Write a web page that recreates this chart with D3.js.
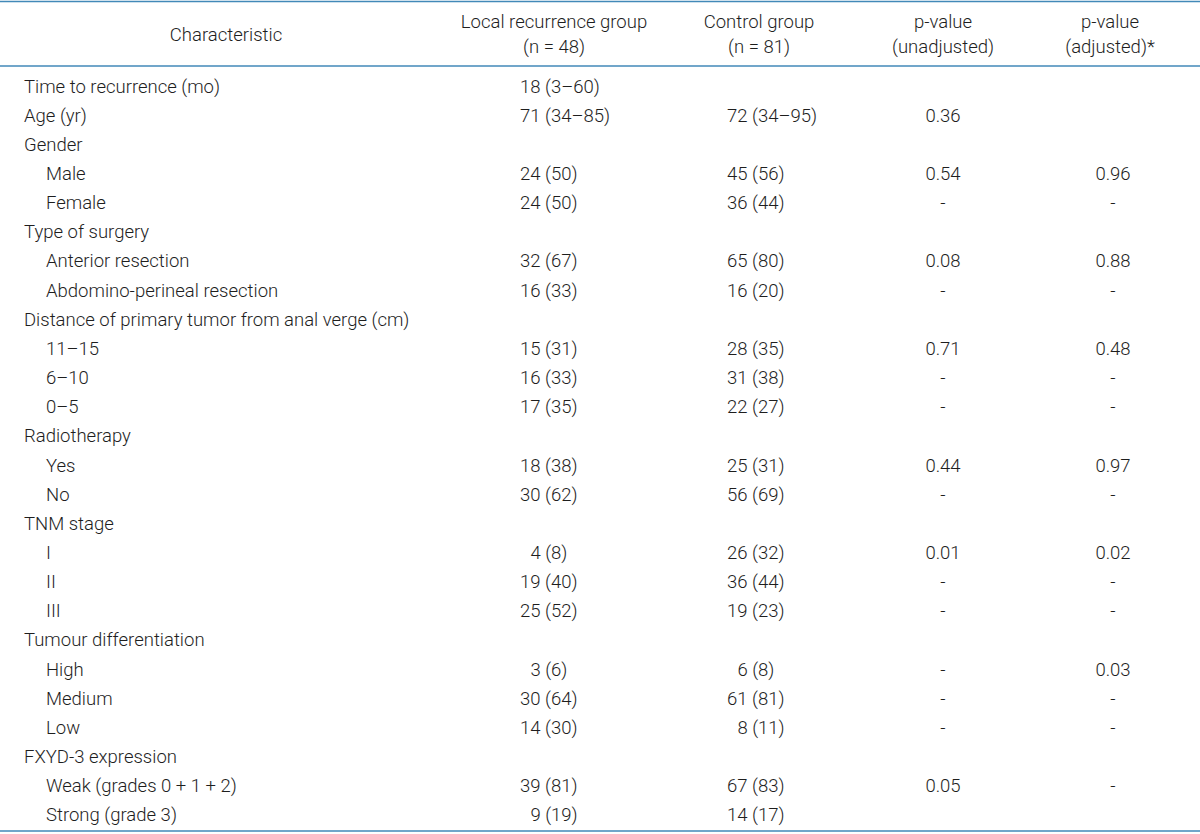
<!DOCTYPE html>
<html lang="en">
<head>
<meta charset="UTF-8">
<script src="https://d3js.org/d3.v7.min.js"></script>
<title>Characteristics table</title>
<style>
  body { margin: 0; background: #fff; }
  svg text { font-family: Roboto, "Noto Sans", sans-serif; font-size: 18.5px; font-weight: 300; fill: #1e1e1e; }
</style>
</head>
<body>
<script>
// table data
var labels = ["Time to recurrence (mo)", "Age (yr)", "Gender", "Male", "Female",
  "Type of surgery", "Anterior resection", "Abdomino-perineal resection",
  "Distance of primary tumor from anal verge (cm)", "11\u201315", "6\u201310", "0\u20135",
  "Radiotherapy", "Yes", "No", "TNM stage", "I", "II", "III",
  "Tumour differentiation", "High", "Medium", "Low",
  "FXYD-3 expression", "Weak (grades 0 + 1 + 2)", "Strong (grade 3)"];
var levels = [0, 0, 0, 1, 1, 0, 1, 1, 0, 1, 1, 1, 0, 1, 1, 0, 1, 1, 1, 0, 1, 1, 1, 0, 1, 1];
var localGroup = ["18 (3\u201360)", "71 (34\u201385)", "", "24 (50)", "24 (50)", "", "32 (67)", "16 (33)",
  "", "15 (31)", "16 (33)", "17 (35)", "", "18 (38)", "30 (62)", "", "4 (8)", "19 (40)", "25 (52)",
  "", "3 (6)", "30 (64)", "14 (30)", "", "39 (81)", "9 (19)"];
var controlGroup = ["", "72 (34\u201395)", "", "45 (56)", "36 (44)", "", "65 (80)", "16 (20)",
  "", "28 (35)", "31 (38)", "22 (27)", "", "25 (31)", "56 (69)", "", "26 (32)", "36 (44)", "19 (23)",
  "", "6 (8)", "61 (81)", "8 (11)", "", "67 (83)", "14 (17)"];
var pUnadjusted = ["", "0.36", "", "0.54", "-", "", "0.08", "-", "", "0.71", "-", "-", "", "0.44", "-",
  "", "0.01", "-", "-", "", "-", "-", "-", "", "0.05", ""];
var pAdjusted = ["", "", "", "0.96", "-", "", "0.88", "-", "", "0.48", "-", "-", "", "0.97", "-",
  "", "0.02", "-", "-", "", "0.03", "-", "-", "", "-", ""];
var headers = [["Characteristic"], ["Local recurrence group", "(n = 48)"], ["Control group", "(n = 81)"],
  ["p-value", "(unadjusted)"], ["p-value", "(adjusted)*"]];

var width = 1200, height = 834;
var ruleColor = "#4289b8";

var svg = d3.select("body").append("svg")
    .attr("width", width)
    .attr("height", height);

// row positions
var rows = d3.range(labels.length);
var y = d3.scaleBand().domain(rows).range([71.5, 829.5]);

// column centres for header / centred cells
var colCenter = [226, 554, 759, 943, 1110];

// rules
svg.selectAll(".rule")
    .data([1.5, 66, 831])
  .enter().append("line")
    .attr("class", "rule")
    .attr("x1", 0)
    .attr("x2", width)
    .attr("y1", function(d) { return d; })
    .attr("y2", function(d) { return d; })
    .attr("stroke", ruleColor)
    .attr("stroke-width", 1.6);

// header
var head = svg.selectAll(".head")
    .data(headers)
  .enter().append("text")
    .attr("class", "head")
    .attr("text-anchor", "middle")
    .attr("x", function(d, i) { return colCenter[i]; });
head.selectAll("tspan")
    .data(function(d) { return d; })
  .enter().append("tspan")
    .attr("x", function() { return d3.select(this.parentNode).attr("x"); })
    .attr("y", function(d, i, nodes) { return nodes.length == 1 ? 35 : (i == 0 ? 22 : 47); })
    .attr("dy", "0.35em")
    .text(function(d) { return d; });

// pad single-digit counts with a figure space so the columns line up
function pad(s) { return /^\d\s/.test(s) ? "\u2007" + s : s; }

var row = svg.selectAll(".row")
    .data(rows)
  .enter().append("g")
    .attr("class", "row")
    .attr("transform", function(i) { return "translate(0," + (y(i) + y.bandwidth() / 2) + ")"; });

row.append("text")
    .attr("x", function(i) { return levels[i] ? 46 : 24; })
    .attr("dy", "0.35em")
    .text(function(i) { return labels[i]; });

row.append("text")
    .attr("x", 520)
    .attr("dy", "0.35em")
    .text(function(i) { return pad(localGroup[i]); });

row.append("text")
    .attr("x", 727)
    .attr("dy", "0.35em")
    .text(function(i) { return pad(controlGroup[i]); });

row.append("text")
    .attr("x", colCenter[3])
    .attr("text-anchor", "middle")
    .attr("dy", "0.35em")
    .text(function(i) { return pUnadjusted[i]; });

row.append("text")
    .attr("x", colCenter[4] + 3)
    .attr("text-anchor", "middle")
    .attr("dy", "0.35em")
    .text(function(i) { return pAdjusted[i]; });
</script>
</body>
</html>
